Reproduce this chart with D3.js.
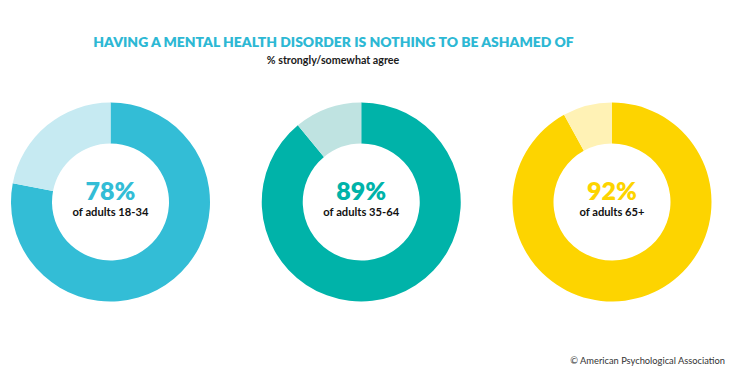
<!DOCTYPE html>
<html>
<head>
<meta charset="utf-8">
<script src="https://cdn.jsdelivr.net/npm/d3@7"></script>
<style>
  body { margin: 0; background: #fff; }
  svg { display: block; font-family: Lato, "Open Sans", sans-serif; }
</style>
</head>
<body>
<svg id="chart" width="740" height="380"></svg>
<script>
// data
let groups = ["of adults 18-34", "of adults 35-64", "of adults 65+"];
let agree = [78, 89, 92];
let darkColors = ["#33bdd6", "#00b3a9", "#fdd400"];
let lightColors = ["#c6eaf2", "#bfe3e1", "#fff2b5"];

let title = "HAVING A MENTAL HEALTH DISORDER IS NOTHING TO BE ASHAMED OF";
let subtitle = "% strongly/somewhat agree";
let credit = "\u00A9 American Psychological Association";

let svg = d3.select("#chart");

let x = d3.scalePoint()
    .domain(groups)
    .range([110.5, 612]);

let outerR = 99.5;
let innerR = 58.5;
let cy = 202;

let pie = d3.pie().sort(null).value(function(d) { return d; });
let arc = d3.arc().innerRadius(innerR).outerRadius(outerR);

svg.append("text")
    .attr("x", 333.5)
    .attr("y", 46.5)
    .attr("text-anchor", "middle")
    .attr("fill", "#2db8d4")
    .style("font-size", "13.9px")
    .style("font-weight", 800)
    .text(title);

svg.append("text")
    .attr("x", 333)
    .attr("y", 64)
    .attr("text-anchor", "middle")
    .attr("fill", "#1a1a1a")
    .style("font-size", "10.7px")
    .style("font-weight", 700)
    .text(subtitle);

let donut = svg.selectAll("g.donut")
    .data(groups)
    .enter().append("g")
    .attr("class", "donut")
    .attr("transform", function(d) { return "translate(" + x(d) + "," + cy + ")"; });

donut.selectAll("path")
    .data(function(d, i) { return pie([agree[i], 100 - agree[i]]).map(function(p) { p.g = i; return p; }); })
    .enter().append("path")
    .attr("d", arc)
    .attr("fill", function(d) { return d.index === 0 ? darkColors[d.g] : lightColors[d.g]; });

donut.append("text")
    .attr("text-anchor", "middle")
    .attr("y", -2)
    .attr("fill", function(d, i) { return darkColors[i]; })
    .style("font-size", "25px")
    .style("font-weight", 800)
    .text(function(d, i) { return agree[i] + "%"; });

donut.append("text")
    .attr("text-anchor", "middle")
    .attr("y", 14)
    .attr("fill", "#111")
    .style("font-size", "11.2px")
    .style("font-weight", 700)
    .text(function(d) { return d; });

svg.append("text")
    .attr("x", 725)
    .attr("y", 364)
    .attr("text-anchor", "end")
    .attr("fill", "#333")
    .style("font-size", "9.3px")
    .text(credit);
</script>
</body>
</html>
